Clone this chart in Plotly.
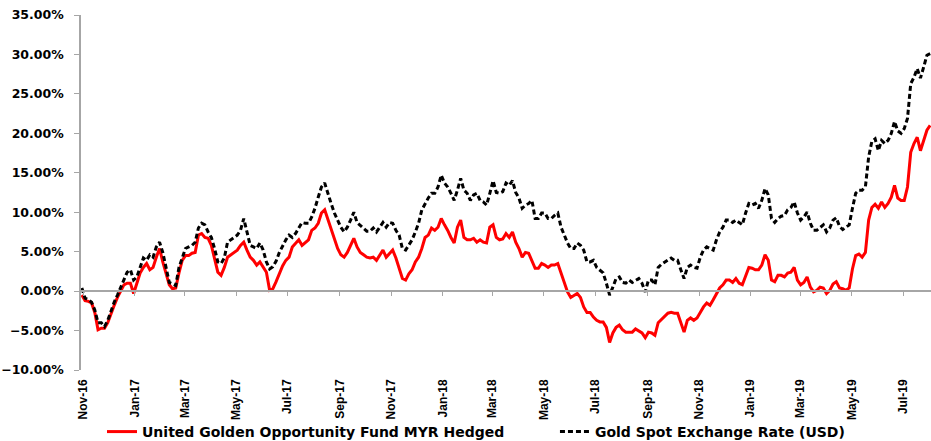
import pandas as pd
import plotly.graph_objects as go

# Cumulative returns (%) sampled at regular intervals from launch to early Aug 2019
fund_myr_hedged = [
    -0.5, -1.2, -1.3, -1.5, -2.7, -4.9, -4.7, -4.7, -4.0, -2.8,
    -1.8, -0.8, 0.1, 0.8, 1.0, 1.0, -0.3, 1.0, 2.3, 3.0,
    3.5, 2.7, 3.0, 4.3, 5.4, 3.7, 2.4, 0.8, 0.3, 0.4,
    2.3, 3.9, 4.5, 4.5, 4.8, 4.9, 7.1, 7.3, 6.8, 6.7,
    5.8, 4.2, 2.4, 2.0, 3.0, 4.3, 4.6, 4.9, 5.2, 5.8,
    6.2, 5.2, 4.3, 3.9, 3.3, 3.7, 3.0, 2.4, 0.1, 0.3,
    1.2, 2.2, 3.2, 3.9, 4.3, 5.6, 6.1, 6.5, 5.8, 6.2,
    6.5, 7.7, 8.0, 8.6, 9.9, 10.3, 9.0, 7.7, 6.5, 5.4,
    4.6, 4.3, 4.9, 5.8, 6.7, 5.6, 4.9, 4.6, 4.3, 4.2,
    4.3, 3.9, 4.6, 5.2, 4.3, 4.8, 5.2, 4.2, 3.0, 1.6,
    1.4, 2.2, 2.7, 3.7, 4.3, 5.4, 6.8, 7.1, 8.0, 7.7,
    8.1, 9.2, 8.4, 7.7, 6.8, 6.1, 8.1, 9.0, 6.8, 6.5,
    6.5, 6.7, 6.2, 6.5, 6.2, 6.1, 8.1, 8.4, 6.8, 6.5,
    6.6, 7.3, 6.8, 7.5, 6.2, 5.4, 4.3, 4.9, 4.8, 3.9,
    2.9, 2.9, 3.5, 3.3, 3.0, 3.3, 3.3, 3.5, 2.3, 1.0,
    -0.1, -0.8, -0.5, -0.3, -0.8, -2.0, -2.7, -2.7, -3.3, -3.7,
    -3.9, -3.9, -4.6, -6.5, -5.3, -4.6, -4.3, -4.9, -5.2, -5.2,
    -5.2, -4.8, -5.0, -5.3, -5.9, -5.2, -5.3, -5.6, -4.0, -3.6,
    -3.2, -2.8, -2.7, -2.8, -2.8, -4.0, -5.2, -3.7, -3.4, -3.7,
    -3.4, -2.7, -2.0, -1.5, -1.8, -1.1, -0.3, 0.4, 0.8, 1.4,
    1.4, 1.1, 1.6, 1.0, 0.8, 2.0, 3.0, 2.9, 2.7, 2.7,
    3.3, 4.6, 3.9, 1.4, 1.2, 2.0, 2.0, 1.8, 2.3, 2.4,
    3.0, 1.4, 0.8, 1.1, 1.8, 0.5, -0.1, 0.1, 0.5, 0.4,
    -0.3, 0.1, 0.9, 1.2, 0.4, 0.3, 0.1, 0.4, 2.8, 4.5,
    4.7, 4.3, 4.9, 9.0, 10.6, 11.0, 10.5, 11.3, 10.6, 11.1,
    11.9, 13.4, 11.8, 11.5, 11.5, 13.2, 17.6, 18.7, 19.5, 17.8,
    19.1, 20.4, 21.0,
]

gold_spot_usd = [
    0.4, -0.9, -1.1, -1.4, -2.4, -4.0, -4.0, -4.5, -3.7, -2.4,
    -1.4, -0.5, 0.5, 1.4, 2.4, 2.7, 1.4, 1.8, 3.0, 4.2,
    3.9, 4.6, 4.3, 5.6, 6.2, 4.9, 3.0, 1.1, 0.9, 0.7,
    3.0, 4.3, 5.4, 5.6, 5.8, 6.2, 8.0, 8.6, 8.4, 7.5,
    6.8, 5.4, 3.7, 3.5, 4.2, 6.2, 6.5, 6.8, 7.1, 7.7,
    9.2, 7.5, 5.8, 5.6, 5.4, 6.1, 5.2, 3.7, 2.8, 3.1,
    3.8, 4.9, 5.8, 6.5, 7.1, 6.8, 7.3, 8.1, 8.7, 8.6,
    8.6, 9.4, 10.5, 11.9, 13.2, 13.7, 12.3, 11.1, 9.9, 9.0,
    8.1, 7.5, 8.1, 9.0, 10.0, 8.7, 8.3, 8.0, 7.6, 7.6,
    8.0, 7.5, 8.1, 8.7, 8.1, 8.7, 8.6, 7.7, 7.1, 5.4,
    5.2, 5.8, 6.5, 7.5, 8.6, 10.3, 11.1, 11.8, 12.4, 12.4,
    13.2, 14.7, 13.7, 13.2, 12.4, 11.5, 12.8, 14.3, 12.8, 12.4,
    11.5, 12.2, 12.4, 11.5, 11.3, 10.9, 12.4, 14.0, 12.5, 12.4,
    12.6, 13.7, 13.4, 14.0, 12.5, 11.8, 10.5, 10.9, 11.1, 11.5,
    9.2, 9.2, 9.9, 9.9, 9.2, 9.2, 9.6, 9.9, 8.1, 7.1,
    6.1, 5.4, 5.4, 6.1, 5.8, 5.2, 3.7, 3.7, 3.9, 3.0,
    2.7, 2.3, 1.0, -0.5, 0.5, 1.6, 1.8, 1.1, 1.0, 1.4,
    1.1, 1.3, 1.6, 1.0, -0.1, 1.4, 1.4, 0.8, 3.0, 3.4,
    3.7, 3.9, 4.2, 3.9, 3.9, 2.7, 1.6, 3.0, 3.3, 3.0,
    2.9, 4.3, 5.2, 5.6, 5.4, 5.2, 6.5, 7.5, 8.1, 9.0,
    9.0, 8.7, 9.0, 8.7, 8.4, 9.9, 11.1, 10.9, 11.1, 10.5,
    11.5, 13.0, 12.2, 9.2, 8.7, 9.2, 9.5, 9.6, 10.3, 10.6,
    11.3, 9.9, 9.0, 9.4, 10.0, 8.6, 7.7, 7.7, 8.1, 8.4,
    7.5, 8.0, 9.0, 9.3, 8.2, 7.8, 8.1, 8.4, 10.5, 12.4,
    12.8, 12.8, 13.2, 17.0, 19.0, 19.3, 17.8, 19.1, 18.7, 19.1,
    20.0, 21.5, 20.3, 20.0, 20.6, 21.9, 26.3, 27.1, 28.2, 27.0,
    28.4, 29.9, 30.1,
]

series_names = [
    "United Golden Opportunity Fund MYR Hedged",
    "Gold Spot Exchange Rate (USD)",
]

dates = pd.date_range("2016-10-30", "2019-08-02", periods=len(gold_spot_usd))
x_range = ["2016-10-29", "2019-08-03"]

axis_grey = "#A6A6A6"
tick_font = dict(family="Liberation Sans, Arial", size=12, color="black", weight="bold")
wide_font = dict(family="DejaVu Sans", size=12.5, color="black", weight="bold")
legend_font = dict(family="DejaVu Sans", size=14, color="black", weight="bold")

fig = go.Figure()

fig.add_trace(go.Scatter(
    x=dates, y=[v / 100 for v in fund_myr_hedged],
    mode="lines", name=series_names[0],
    line=dict(color="#FF0000", width=3),
    legend="legend",
))
fig.add_trace(go.Scatter(
    x=dates, y=[v / 100 for v in gold_spot_usd],
    mode="lines", name=series_names[1],
    line=dict(color="black", width=3, dash="5px,3px"),
    legend="legend2",
))
# empty helper trace so the zero-level axis (with its tick marks) is rendered
fig.add_trace(go.Scatter(
    x=[], y=[], xaxis="x2", yaxis="y", showlegend=False, hoverinfo="skip",
))

fig.update_layout(
    width=931, height=441,
    margin=dict(l=81, r=0, t=15, b=71, autoexpand=False),
    paper_bgcolor="white", plot_bgcolor="white",
    xaxis=dict(
        type="date", range=x_range, automargin=False,
        tick0="2016-11-01", dtick="M2", tickformat="%b-%y",
        tickangle=-90, tickfont=tick_font,
        showline=False, showgrid=False, zeroline=False, ticks="",
        ticklabelstandoff=6,
    ),
    xaxis2=dict(
        type="date", range=x_range, overlaying="x", anchor="free",
        position=10 / 45, side="bottom", automargin=False,
        tick0="2016-11-01", dtick="M2",
        showticklabels=False, showgrid=False, zeroline=False,
        showline=True, linecolor=axis_grey, linewidth=1.5,
        ticks="outside", ticklen=4, tickcolor=axis_grey, tickwidth=1,
    ),
    yaxis=dict(
        range=[-0.10, 0.35], dtick=0.05, tickformat=".2%",
        tickfont=wide_font, automargin=False,
        showgrid=False, zeroline=False,
        showline=True, linecolor=axis_grey, linewidth=1.5,
        ticks="outside", ticklen=5, tickcolor=axis_grey, tickwidth=1,
        ticklabelstandoff=8,
    ),
    legend=dict(
        orientation="h", x=0.0247, xanchor="left", y=-0.1746, yanchor="middle",
        font=legend_font, bgcolor="rgba(0,0,0,0)", borderwidth=0,
    ),
    legend2=dict(
        orientation="h", x=0.5576, xanchor="left", y=-0.1746, yanchor="middle",
        font=legend_font, bgcolor="rgba(0,0,0,0)", borderwidth=0,
    ),
    showlegend=True,
)

fig.write_html("out.html")
